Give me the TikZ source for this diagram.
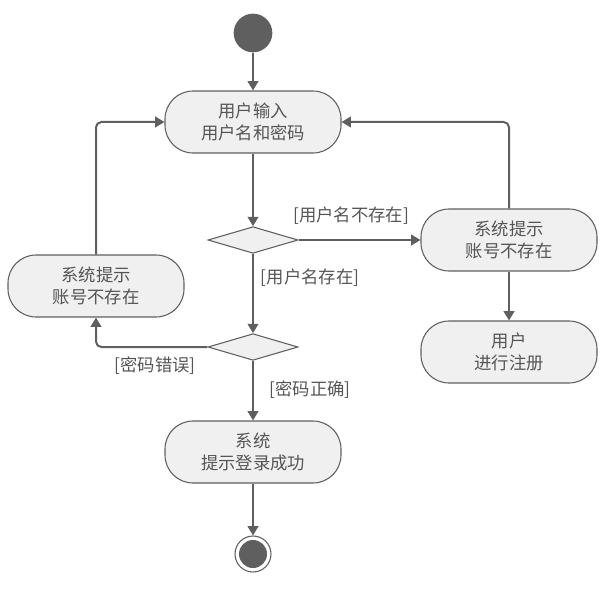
\documentclass[tikz,border=0pt]{standalone}
\usepackage{fontspec}
\newfontfamily\cjk{Noto Sans CJK SC}
\usetikzlibrary{arrows.meta,shapes.geometric}
\definecolor{ln}{HTML}{5F5F5F}
\definecolor{fl}{HTML}{F0F0F0}
\definecolor{tx}{HTML}{555555}
\tikzset{
  act/.style={draw=ln, line width=0.8pt, fill=fl, rounded corners=21pt,
    minimum width=132pt, minimum height=46.5pt, align=center,
    font=\cjk\fontsize{13pt}{16pt}\selectfont, text=tx, inner sep=2pt},
  dec/.style={draw=ln, line width=0.8pt, fill=fl, diamond, aspect=3.3,
    minimum width=67.5pt, minimum height=20pt, inner sep=0pt},
  lbl/.style={font=\cjk\fontsize{13pt}{15pt}\selectfont, text=tx, inner sep=1pt},
  arr/.style={draw=ln, line width=1.5pt, -{Triangle[length=7pt,width=8pt]}, rounded corners=4pt}
}
\begin{document}
\begin{tikzpicture}[x=0.75pt,y=-0.75pt]
\useasboundingbox (0,0) rectangle (609,588);
\node[circle, fill=ln, minimum size=29pt, inner sep=0pt] (start) at (253,33) {};
\node[act] (A) at (253,122) {用户输入\\用户名和密码};
\node[dec] (d1) at (253,240) {};
\node[dec] (d2) at (253,347) {};
\node[act] (L) at (96,286) {系统提示\\账号不存在};
\node[act] (R) at (509,240) {系统提示\\账号不存在};
\node[act] (U) at (509,352) {用户\\进行注册};
\node[act] (B) at (253,452) {系统\\提示登录成功};
\node[circle, draw=ln, line width=0.8pt, fill=white, minimum size=27pt, inner sep=0pt] (end) at (253,554) {};
\node[circle, fill=ln, minimum size=21pt, inner sep=0pt] (endin) at (253,554) {};

\node[lbl] (l1) at (351,216) {[用户名不存在]};
\node[lbl] (l2) at (310,278) {[用户名存在]};
\node[lbl] (l3) at (155,366) {[密码错误]};
\node[lbl] (l4) at (310,390) {[密码正确]};

\draw[arr] (start) -- (A);
\draw[arr] (A) -- (d1);
\draw[arr] (d1) -- (d2);
\draw[arr] (d2) -- (B);
\draw[arr] (B) -- (end);
\draw[arr] (d1.east) -- (R.west);
\draw[arr] (R) -- (U);
\draw[arr] (R.north) |- (A.east);
\draw[arr] (L.north) |- (A.west);
\draw[arr] (d2.west) -| (L.south);
\end{tikzpicture}
\end{document}
